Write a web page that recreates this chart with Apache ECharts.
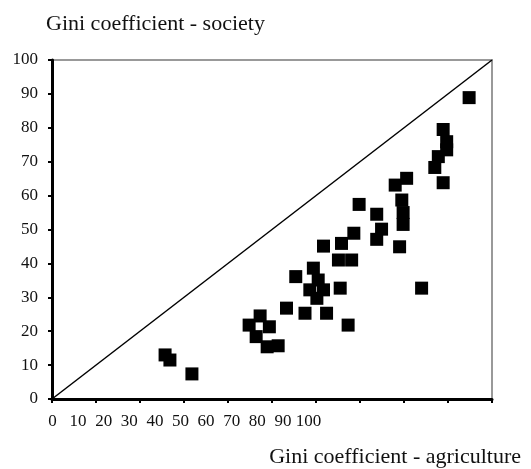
<!DOCTYPE html>
<html>
<head>
<meta charset="utf-8">
<script src="https://cdn.jsdelivr.net/npm/echarts@6/dist/echarts.min.js"></script>
<style>
  html, body { margin: 0; padding: 0; background: #fff; }
  #chart { width: 531px; height: 469px; }
</style>
</head>
<body>
<div id="chart"></div>
<script>
// Gini agricultura (x) vs Gini sociedad (y)
const giniAgri = [25.7, 26.8, 31.8, 47.3, 44.8, 49.4, 46.4, 48.9, 51.4, 53.3,
    57.5, 62.4, 67.3, 55.4, 59.4, 60.5, 58.6, 61.7, 65.5, 60.2,
    65.1, 68.1, 61.7, 65.8, 68.6, 69.8, 73.8, 74.9, 73.8, 78.0,
    80.6, 79.5, 79.8, 79.8, 79.0, 84.0, 94.8, 88.9, 89.7, 89.7,
    87.8, 87.0, 88.9];
const giniSociety = [13.0, 11.5, 7.4, 24.5, 21.8, 21.3, 18.4, 15.4, 15.7, 26.8,
    25.3, 25.3, 21.8, 36.1, 38.6, 35.1, 32.2, 32.2, 32.7, 29.7,
    41.0, 41.0, 45.1, 45.9, 48.9, 57.4, 54.5, 50.1, 47.1, 63.1,
    65.1, 58.7, 55.0, 51.5, 44.9, 32.7, 88.9, 79.5, 75.9, 73.5,
    71.5, 68.3, 63.8];

// linea de igualdad
const diagX = [0, 100];
const diagY = [0, 100];

// etiquetas del eje x (apretadas a la izquierda como en el original)
const xTickLabels = ['0', '10', '20', '30', '40', '50', '60', '70', '80', '90', '100'];

const FONT = '"Liberation Serif", "DejaVu Serif", serif';

let chart = echarts.init(document.getElementById('chart'), null, { renderer: 'canvas' });

let option = {
    backgroundColor: '#fff',
    animation: false,
    title: [
        {
            text: 'Gini coefficient - society',
            left: 46, top: 13, padding: 0,
            textStyle: { fontFamily: FONT, fontSize: 22, fontWeight: 'normal', color: '#111' }
        },
        {
            text: 'Gini coefficient - agriculture',
            right: 10, top: 446, padding: 0,
            textStyle: { fontFamily: FONT, fontSize: 22, fontWeight: 'normal', color: '#111' }
        }
    ],
    grid: [
        { left: 52, right: 39, top: 60, bottom: 70, show: true, borderColor: '#999', borderWidth: 2 },
        { left: 52.5, width: 256, top: 398, height: 2 }
    ],
    xAxis: [
        {
            type: 'value', gridIndex: 0, min: 0, max: 100, interval: 10,
            axisLine: { show: true, onZero: false, lineStyle: { color: '#000', width: 3 } },
            axisTick: { show: true, length: 4, lineStyle: { color: '#000', width: 2 } },
            axisLabel: { show: false },
            splitLine: { show: false }
        },
        {
            type: 'category', gridIndex: 1, data: xTickLabels, boundaryGap: false,
            axisLine: { show: false },
            axisTick: { show: false },
            axisLabel: { interval: 0, margin: 13, fontFamily: FONT, fontSize: 17, color: '#111' },
            splitLine: { show: false }
        }
    ],
    yAxis: [
        {
            type: 'value', gridIndex: 0, min: 0, max: 100, interval: 10,
            axisLine: { show: true, onZero: false, lineStyle: { color: '#000', width: 3 } },
            axisTick: { show: true, length: 4, lineStyle: { color: '#000', width: 2 } },
            axisLabel: { margin: 14, fontFamily: FONT, fontSize: 17, color: '#111' },
            splitLine: { show: false }
        },
        {
            type: 'value', gridIndex: 1, show: false
        }
    ],
    series: [
        {
            type: 'line',
            xAxisIndex: 0, yAxisIndex: 0,
            data: diagX.map((x, i) => [x, diagY[i]]),
            showSymbol: false,
            lineStyle: { color: '#000', width: 1.5 },
            z: 1
        },
        {
            type: 'scatter',
            xAxisIndex: 0, yAxisIndex: 0,
            data: giniAgri.map((x, i) => [x, giniSociety[i]]),
            symbol: 'rect',
            symbolSize: 13,
            itemStyle: { color: '#000', opacity: 1 },
            z: 2
        }
    ]
};

chart.setOption(option);
window.addEventListener('resize', () => chart.resize());
</script>
</body>
</html>
